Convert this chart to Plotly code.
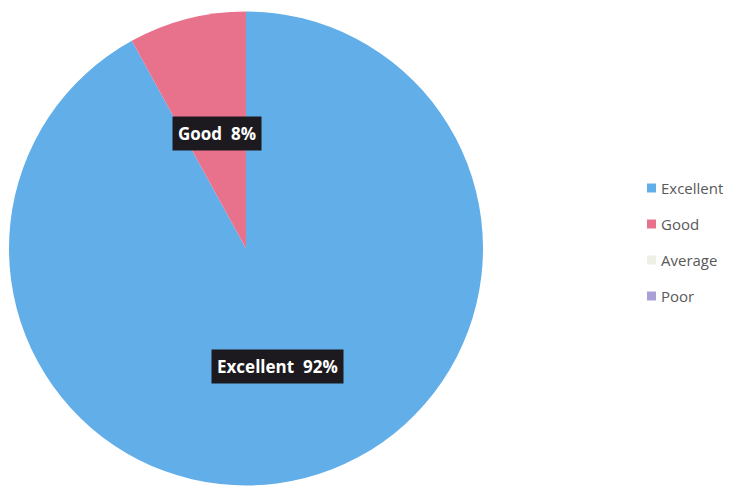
import plotly.graph_objects as go

labels = ["Excellent", "Good", "Average", "Poor"]
values = [92, 8, 0, 0]
colors = ["#62AEE8", "#E8718C", "#EEF0E6", "#A9A0D8"]
label_text = ["Excellent  92%", "Good  8%"]

# page body has an 8px margin; figure sized to fit the 731x491 window
OFF = 8
W, H = 731 - OFF, 491 - OFF


def px_x(p):
    return (p - OFF) / W


def px_y(p):
    return 1 - (p - OFF) / H


fig = go.Figure()
fig.add_trace(go.Pie(
    labels=labels,
    values=values,
    sort=False,
    direction="clockwise",
    rotation=0,
    marker=dict(colors=colors, line=dict(width=0)),
    textinfo="none",
    hoverinfo="label+percent",
    showlegend=False,
    domain=dict(x=[px_x(9), px_x(483)], y=[px_y(486), px_y(11)]),
))

# data labels (dark boxes)
label_pos = [(277, 366), (217, 133)]
for txt, (px, py) in zip(label_text, label_pos):
    fig.add_annotation(
        x=px_x(px), y=px_y(py), xref="paper", yref="paper",
        text="<b>" + txt.replace("  ", "&nbsp;&nbsp;") + "</b>",
        showarrow=False,
        font=dict(family="Open Sans", size=17, color="white"),
        bgcolor="#1c1a1e",
        borderpad=5,
        xanchor="center", yanchor="middle",
    )

# legend
leg_y0 = 188
leg_dy = 36
for i, (lab, col) in enumerate(zip(labels, colors)):
    yc = leg_y0 + i * leg_dy
    fig.add_shape(
        type="rect", xref="paper", yref="paper",
        x0=px_x(647), x1=px_x(656),
        y0=px_y(yc + 4.5), y1=px_y(yc - 4.5),
        fillcolor=col, line=dict(width=0),
    )
    fig.add_annotation(
        x=px_x(659), y=px_y(yc), xref="paper", yref="paper",
        text=lab, showarrow=False,
        font=dict(family="Open Sans", size=15, color="#595959"),
        xanchor="left", yanchor="middle",
    )

fig.update_layout(
    width=W, height=H,
    margin=dict(l=0, r=0, t=0, b=0),
    paper_bgcolor="white",
    plot_bgcolor="white",
)

fig.write_html("out.html")
